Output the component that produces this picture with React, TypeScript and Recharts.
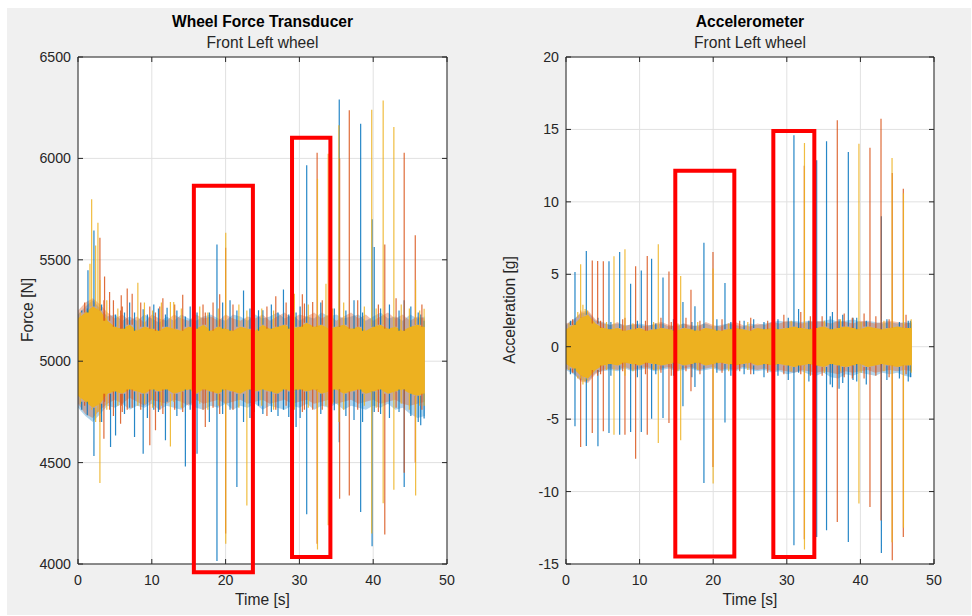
import React from 'react';
import {
  ComposedChart,
  Area,
  Line,
  XAxis,
  YAxis,
  CartesianGrid,
  ReferenceArea,
} from 'recharts';

const FONT = '"Liberation Sans", Arial, Helvetica, sans-serif';
const INK = '#262626';
const BLUE = '#0072BD';
const ORANGE = '#D95319';
const YELLOW = '#EDB120';
const RED = '#ff0000';

// shared time axis
const timeTicks = [0, 10, 20, 30, 40, 50];
const binTimes = [
  0, 1, 2, 3, 4, 5, 6, 7, 8, 9, 10, 11, 12, 13, 14, 15, 16, 17, 18, 19, 20, 21, 22, 23,
  24, 25, 26, 27, 28, 29, 30, 31, 32, 33, 34, 35, 36, 37, 38, 39, 40, 41, 42, 43, 44, 45, 46, 47,
];

// ---- wheel force transducer [N] ----
const forceTicks = [4000, 4500, 5000, 5500, 6000, 6500];

// noise envelope per 1 s bin
const forceYellowHi = [5210, 5240, 5270, 5250, 5200, 5170, 5160, 5180, 5150, 5170, 5160, 5150, 5170, 5160, 5150, 5170, 5160, 5180, 5150, 5170, 5160, 5150, 5170, 5160, 5150, 5180, 5160, 5170, 5180, 5160, 5170, 5190, 5170, 5180, 5160, 5170, 5180, 5160, 5170, 5150, 5170, 5180, 5160, 5170, 5150, 5170, 5180, 5170];
const forceYellowLo = [4830, 4800, 4770, 4790, 4840, 4850, 4840, 4860, 4850, 4840, 4860, 4850, 4860, 4840, 4850, 4860, 4840, 4860, 4850, 4840, 4860, 4850, 4840, 4860, 4850, 4860, 4850, 4840, 4860, 4850, 4860, 4850, 4860, 4840, 4850, 4860, 4840, 4850, 4860, 4840, 4850, 4860, 4840, 4850, 4860, 4840, 4830, 4840];
const forceOrangeHi = [5250, 5290, 5310, 5280, 5240, 5210, 5230, 5200, 5220, 5190, 5230, 5210, 5200, 5230, 5210, 5200, 5230, 5210, 5220, 5200, 5230, 5210, 5200, 5220, 5210, 5230, 5200, 5220, 5240, 5210, 5230, 5220, 5240, 5210, 5230, 5200, 5220, 5240, 5210, 5230, 5200, 5220, 5240, 5210, 5230, 5200, 5220, 5210];
const forceOrangeLo = [4790, 4740, 4720, 4760, 4790, 4810, 4790, 4820, 4800, 4780, 4810, 4800, 4790, 4810, 4800, 4780, 4810, 4790, 4800, 4810, 4790, 4800, 4810, 4790, 4800, 4810, 4790, 4800, 4810, 4790, 4800, 4810, 4790, 4800, 4810, 4790, 4800, 4810, 4790, 4800, 4810, 4790, 4800, 4810, 4790, 4780, 4790, 4800];
const forceBlueHi = [5230, 5270, 5300, 5260, 5220, 5230, 5200, 5220, 5200, 5230, 5210, 5190, 5220, 5200, 5230, 5210, 5200, 5220, 5230, 5210, 5200, 5230, 5220, 5200, 5230, 5210, 5220, 5240, 5210, 5230, 5200, 5220, 5210, 5240, 5220, 5230, 5210, 5220, 5230, 5200, 5220, 5240, 5210, 5220, 5200, 5230, 5210, 5220];
const forceBlueLo = [4770, 4730, 4700, 4740, 4780, 4770, 4790, 4760, 4780, 4770, 4790, 4760, 4780, 4770, 4760, 4790, 4770, 4760, 4780, 4770, 4790, 4760, 4780, 4770, 4790, 4760, 4780, 4770, 4760, 4780, 4770, 4790, 4760, 4780, 4770, 4790, 4760, 4780, 4770, 4760, 4780, 4770, 4790, 4760, 4770, 4740, 4720, 4730];

// peaks: [time, max, min]
const forceBlueSpikes: [number, number, number][] = [
  [0.5, 5250, 4760], [1.26, 5260, 4733], [1.35, 5448, 4850], [2.16, 5645, 4532],
  [3.2, 5280, 4700], [4.41, 5200, 4577], [5.09, 5230, 4634], [6.3, 5240, 4740],
  [7.0, 5290, 4770], [7.66, 5240, 4626], [8.83, 5256, 4544], [9.4, 5230, 4720],
  [10.27, 5280, 4760], [10.9, 5260, 4750], [11.85, 5230, 4610], [12.07, 5264, 4800],
  [13.4, 5250, 4730], [14.55, 5220, 4481], [15.2, 5270, 4760], [16.13, 5240, 4544],
  [17.8, 5240, 4700], [18.83, 5575, 4015], [19.6, 5290, 4740], [20.6, 5300, 4760],
  [21.53, 5250, 4380], [22.43, 5349, 4700], [23.3, 5260, 4720], [24.46, 5251, 4780],
  [25.05, 5251, 4740], [26.2, 5280, 4750], [27.1, 5240, 4730], [27.84, 5354, 4760],
  [28.56, 5230, 4725], [29.55, 5240, 4675], [30.1, 5270, 4720], [30.99, 5966, 4245],
  [32.9, 5290, 4740], [34.73, 5260, 4758], [35.4, 6291, 4600], [36.3, 5250, 4730],
  [37.4, 5300, 4710], [38.3, 6171, 4256], [38.56, 5240, 4700], [39.85, 5700, 4087],
  [40.14, 5563, 4750], [41.0, 5260, 4740], [42.2, 5280, 4720], [43.5, 5250, 4750],
  [44.2, 5300, 4380], [45.1, 5270, 4730], [46.1, 5240, 4700], [46.44, 5230, 4684],
  [46.9, 5200, 4717],
];
const forceOrangeSpikes: [number, number, number][] = [
  [0.9, 5290, 4780], [2.97, 5609, 4700], [3.51, 5300, 4618], [3.6, 5418, 4800],
  [4.28, 5341, 4760], [4.8, 5300, 4730], [5.77, 5250, 4692], [5.86, 5325, 4780],
  [6.0, 5270, 4750], [6.67, 5358, 4760], [7.34, 5333, 4770], [8.5, 5290, 4760],
  [9.73, 5270, 4585], [10.5, 5240, 4659], [11.08, 5270, 4760], [11.5, 5310, 4740],
  [13.1, 5280, 4760], [14.19, 5328, 4750], [15.6, 5300, 4730], [16.94, 5280, 4760],
  [17.25, 5240, 4675], [18.3, 5290, 4770], [19.2, 5330, 4740], [20.0, 5560, 4150],
  [21.0, 5280, 4760], [23.9, 5300, 4750], [25.6, 5270, 4730], [26.8, 5320, 4760],
  [28.2, 5290, 4780], [30.4, 5330, 4750], [30.68, 5284, 4760], [31.8, 5292, 4760],
  [32.4, 6028, 4100], [33.1, 5300, 4760], [34.3, 5270, 4740], [35.45, 6000, 4322],
  [36.76, 6237, 4338], [37.9, 5300, 4760], [40.7, 5280, 4750], [41.57, 5575, 4146],
  [43.1, 5310, 4770], [44.2, 6028, 4450], [45.7, 5621, 4500], [46.6, 5280, 4760],
];
const forceYellowSpikes: [number, number, number][] = [
  [0.3, 5240, 4790], [1.62, 5481, 4780], [1.85, 5798, 4760], [2.39, 5571, 4700],
  [2.7, 5683, 4750], [2.97, 5400, 4399], [3.9, 5300, 4760], [5.4, 5260, 4780],
  [8.11, 5387, 4780], [9.0, 5290, 4790], [10.1, 5250, 4770], [11.3, 5290, 4780],
  [12.52, 5292, 4580], [12.97, 5292, 4800], [14.0, 5260, 4770], [16.5, 5270, 4790],
  [17.6, 5240, 4760], [19.0, 5260, 4780], [20.02, 5634, 4100], [21.8, 5280, 4770],
  [22.88, 5250, 4289], [24.9, 5260, 4780], [26.5, 5250, 4760], [28.9, 5290, 4780],
  [29.32, 5333, 4760], [31.2, 5280, 4770], [32.45, 5900, 4071], [33.6, 5382, 4780],
  [33.9, 6023, 4191], [34.5, 5260, 4790], [35.35, 6163, 4700], [36.0, 5290, 4760],
  [38.8, 5270, 4780], [39.8, 6240, 4150], [40.4, 5260, 4770], [41.35, 6286, 4300],
  [42.8, 6155, 4366], [43.8, 5280, 4790], [44.9, 5260, 4760], [45.75, 5400, 4338],
  [46.3, 5250, 4780], [46.9, 5259, 4780],
];
const forceBoxes = [
  { x1: 15.7, x2: 23.7, y1: 3959, y2: 5865 },
  { x1: 29.0, x2: 34.2, y1: 4034, y2: 6102 },
];

// ---- accelerometer [g] ----
const accelTicks = [-15, -10, -5, 0, 5, 10, 15, 20];

const accelYellowHi = [1.2, 1.5, 2.0, 2.2, 1.6, 1.3, 1.2, 1.3, 1.1, 1.2, 1.3, 1.1, 1.2, 1.3, 1.2, 1.1, 1.3, 1.2, 1.1, 1.3, 1.2, 1.1, 1.2, 1.3, 1.2, 1.1, 1.3, 1.2, 1.3, 1.2, 1.3, 1.4, 1.3, 1.2, 1.3, 1.4, 1.2, 1.3, 1.4, 1.3, 1.2, 1.4, 1.3, 1.2, 1.3, 1.4, 1.3, 1.3];
const accelYellowLo = [-1.2, -1.5, -2.0, -2.2, -1.6, -1.3, -1.2, -1.3, -1.1, -1.2, -1.3, -1.1, -1.2, -1.3, -1.2, -1.1, -1.3, -1.2, -1.1, -1.3, -1.2, -1.1, -1.2, -1.3, -1.2, -1.1, -1.3, -1.2, -1.3, -1.2, -1.3, -1.4, -1.3, -1.2, -1.3, -1.4, -1.2, -1.3, -1.4, -1.3, -1.2, -1.4, -1.3, -1.2, -1.3, -1.4, -1.3, -1.3];
const accelOrangeHi = [1.6, 1.8, 2.4, 2.5, 1.9, 1.6, 1.5, 1.7, 1.4, 1.6, 1.5, 1.4, 1.6, 1.7, 1.5, 1.4, 1.6, 1.5, 1.4, 1.7, 1.5, 1.4, 1.6, 1.7, 1.5, 1.4, 1.6, 1.5, 1.7, 1.6, 1.8, 1.7, 1.6, 1.7, 1.8, 1.7, 1.6, 1.8, 1.7, 1.6, 1.8, 1.7, 1.6, 1.7, 1.8, 1.7, 1.6, 1.7];
const accelOrangeLo = [-1.5, -1.8, -2.4, -2.5, -1.9, -1.6, -1.5, -1.6, -1.4, -1.6, -1.5, -1.4, -1.6, -1.5, -1.4, -1.6, -1.5, -1.4, -1.6, -1.5, -1.4, -1.6, -1.5, -1.6, -1.4, -1.5, -1.6, -1.5, -1.7, -1.6, -1.7, -1.8, -1.6, -1.7, -1.8, -1.7, -1.8, -1.9, -1.7, -1.8, -1.7, -1.6, -1.8, -1.7, -1.6, -1.7, -1.6, -1.7];
const accelBlueHi = [1.5, 1.9, 2.3, 2.4, 1.8, 1.7, 1.5, 1.6, 1.5, 1.5, 1.6, 1.5, 1.5, 1.6, 1.4, 1.5, 1.6, 1.4, 1.5, 1.6, 1.4, 1.5, 1.6, 1.5, 1.4, 1.6, 1.5, 1.6, 1.7, 1.8, 1.7, 1.8, 1.7, 1.8, 1.7, 1.8, 1.9, 1.7, 1.8, 1.9, 1.7, 1.8, 1.7, 1.6, 1.7, 1.6, 1.7, 1.6];
const accelBlueLo = [-1.6, -1.9, -2.3, -2.4, -1.8, -1.7, -1.6, -1.7, -1.5, -1.7, -1.6, -1.5, -1.7, -1.6, -1.5, -1.7, -1.6, -1.5, -1.7, -1.6, -1.5, -1.7, -1.6, -1.7, -1.5, -1.6, -1.7, -1.6, -1.8, -1.7, -1.9, -1.8, -1.7, -1.9, -2.0, -1.8, -2.1, -2.2, -1.9, -2.0, -1.8, -1.9, -2.0, -1.8, -1.9, -1.8, -2.0, -2.1];

const accelBlueSpikes: [number, number, number][] = [
  [0.6, 1.8, -1.9], [1.22, 5.16, -5.49], [2.76, 6.61, -6.85], [3.1, 2.0, -2.2],
  [4.34, 2.0, -6.87], [5.84, 5.9, -5.95], [6.1, 1.7, -2.0], [7.29, 6.54, -6.07],
  [8.78, 4.35, -5.89], [9.7, 1.8, -2.1], [10.23, 5.27, -5.89], [11.63, 6.08, -4.97],
  [12.2, 1.6, -1.9], [13.18, 4.77, -4.92], [14.6, 1.9, -2.0], [15.89, 3.09, -4.11],
  [17.1, 1.7, -2.1], [17.52, 2.79, -2.78], [18.74, 7.18, -9.41], [20.5, 1.9, -1.8],
  [21.6, 4.4, -5.24], [22.4, 1.7, -2.0], [24.2, 1.8, -1.9], [25.5, 1.9, -1.9],
  [26.9, 1.7, -2.1], [28.8, 1.9, -2.0], [30.2, 2.0, -2.3], [30.97, 14.59, -13.71],
  [31.6, 2.6, -1.8], [33.0, 1.8, -2.4], [34.06, 12.87, -13.13], [35.4, 14.18, -12.67],
  [35.9, 2.1, -2.6], [36.2, 2.4, -2.8], [37.1, 1.9, -2.9], [37.6, 2.2, -2.5],
  [38.36, 13.44, -13.48], [39.0, 2.0, -2.3], [39.5, 2.0, -2.4], [40.8, 1.8, -2.6],
  [42.85, 9.0, -14.24], [43.6, 1.9, -2.3], [45.3, 1.7, -2.2], [46.5, 1.8, -2.4],
  [46.8, 1.8, -2.1],
];
const accelOrangeSpikes: [number, number, number][] = [
  [0.9, 1.9, -1.8], [1.99, 2.5, -6.92], [3.57, 5.96, -5.95], [4.3, 5.92, -2.0],
  [4.7, 1.8, -1.9], [5.07, 5.9, -5.84], [7.7, 1.9, -1.7], [8.01, 2.0, -6.07],
  [9.46, 5.55, -7.73], [10.8, 1.8, -1.9], [11.04, 6.26, -6.07], [12.9, 2.0, -1.8],
  [13.99, 5.2, -5.26], [14.3, 1.7, -2.0], [16.3, 2.0, -1.7], [16.98, 3.94, -3.08],
  [18.2, 1.8, -1.9], [19.97, 6.54, -8.3], [21.2, 1.9, -1.8], [23.6, 1.8, -1.7],
  [25.1, 2.0, -1.9], [27.4, 1.8, -1.8], [29.6, 2.2, -1.9], [31.9, 2.4, -1.9],
  [32.38, 12.5, -13.3], [33.2, 2.1, -2.0], [34.8, 2.1, -2.0], [36.86, 15.63, -12.1],
  [37.8, 2.3, -2.1], [38.9, 2.0, -2.2], [40.5, 2.3, -2.2], [41.3, 13.74, -11.06],
  [42.1, 2.1, -2.0], [42.8, 15.74, -12.0], [43.9, 1.9, -2.1], [44.33, 12.0, -14.74],
  [45.83, 10.91, -13.13], [46.2, 2.2, -1.9],
];
const accelYellowSpikes: [number, number, number][] = [
  [0.4, 1.6, -1.6], [1.6, 2.4, -2.2], [1.99, 5.69, -2.2], [2.3, 2.9, -2.6],
  [2.6, 2.6, -2.4], [2.9, 2.5, -2.3], [5.5, 1.7, -1.6], [6.52, 6.24, -6.07],
  [8.01, 6.72, -2.0], [9.1, 1.6, -1.7], [11.9, 1.7, -1.6], [12.54, 7.07, -6.65],
  [15.2, 1.6, -1.7], [15.58, 4.88, -6.46], [17.9, 1.7, -1.6], [19.99, 5.4, -9.45],
  [22.1, 1.6, -1.7], [24.7, 1.7, -1.6], [27.9, 1.6, -1.7], [30.6, 1.8, -1.7],
  [32.4, 14.06, -14.0], [35.1, 1.8, -1.8], [37.3, 1.9, -1.7], [39.8, 14.02, -10.83],
  [40.1, 1.7, -1.8], [43.2, 1.8, -1.7], [44.3, 13.03, -13.5], [45.85, 10.6, -12.5],
  [46.9, 1.9, -1.8],
];
const accelBoxes = [
  { x1: 14.85, x2: 22.87, y1: -14.49, y2: 12.15 },
  { x1: 28.17, x2: 33.74, y1: -14.52, y2: 14.89 },
];

type Band = { hi: number[]; lo: number[] };

function bandRows(blue: Band, orange: Band, yellow: Band) {
  return binTimes.map((t, i) => ({
    t,
    blue: [blue.lo[i], blue.hi[i]],
    orange: [orange.lo[i], orange.hi[i]],
    yellow: [yellow.lo[i], yellow.hi[i]],
  }));
}

// vertical strokes from the top/bottom of the yellow band out to each peak
function spikeRows(spikes: [number, number, number][], core: Band) {
  const rows: { t: number; v: number | null }[] = [];
  spikes.forEach(([t, hi, lo]) => {
    const i = Math.min(core.hi.length - 1, Math.round(t));
    if (hi > core.hi[i]) rows.push({ t, v: core.hi[i] }, { t, v: hi }, { t, v: null });
    if (lo < core.lo[i]) rows.push({ t, v: core.lo[i] }, { t, v: lo }, { t, v: null });
  });
  return rows;
}

type PanelProps = {
  left: number;
  plotLeft: number;
  plotRight: number;
  yDomain: [number, number];
  yTicks: number[];
  rows: ReturnType<typeof bandRows>;
  spikes: { color: string; rows: { t: number; v: number | null }[] }[];
  boxes: { x1: number; x2: number; y1: number; y2: number }[];
};

const W = 486;
const H = 616;
const PLOT_TOP = 57;
const PLOT_BOTTOM = 564;
const TICK_FONT = 14.2;
const LABEL_FONT = 15.6;

function Panel({ left, plotLeft, plotRight, yDomain, yTicks, rows, spikes, boxes }: PanelProps) {
  const xTick = (p: any) => (
    <g>
      <line x1={p.x} x2={p.x} y1={PLOT_BOTTOM} y2={PLOT_BOTTOM - 5} stroke={INK} />
      <line x1={p.x} x2={p.x} y1={PLOT_TOP} y2={PLOT_TOP + 5} stroke={INK} />
      <text x={p.x} y={585} textAnchor="middle" fontSize={TICK_FONT} fontFamily={FONT} fill={INK}>
        {p.payload.value}
      </text>
    </g>
  );
  const yTick = (p: any) => (
    <g>
      <line x1={plotLeft} x2={plotLeft + 5} y1={p.y} y2={p.y} stroke={INK} />
      <line x1={plotRight} x2={plotRight - 5} y1={p.y} y2={p.y} stroke={INK} />
      <text x={plotLeft - 7} y={p.y + 5} textAnchor="end" fontSize={TICK_FONT} fontFamily={FONT} fill={INK}>
        {p.payload.value}
      </text>
    </g>
  );

  return (
    <div style={{ position: 'absolute', left, top: 0 }}>
      <ComposedChart
        width={W}
        height={H}
        data={rows}
        margin={{ top: PLOT_TOP, right: W - plotRight, bottom: H - PLOT_BOTTOM - 30, left: plotLeft - 60 }}
      >
        <CartesianGrid stroke="#e1e1e1" fill="#ffffff" />
        <XAxis
          dataKey="t"
          type="number"
          domain={[0, 50]}
          ticks={timeTicks}
          interval={0}
          height={30}
          axisLine={false}
          tickLine={false}
          tick={xTick}
          allowDataOverflow
        />
        <YAxis
          type="number"
          domain={yDomain}
          ticks={yTicks}
          interval={0}
          width={60}
          axisLine={false}
          tickLine={false}
          tick={yTick}
          allowDataOverflow
        />
        <Area dataKey="blue" type="linear" stroke="none" fill={BLUE} fillOpacity={0.3} isAnimationActive={false} activeDot={false} />
        <Area dataKey="orange" type="linear" stroke="none" fill={ORANGE} fillOpacity={0.35} isAnimationActive={false} activeDot={false} />
        <Area dataKey="yellow" type="linear" stroke="none" fill={YELLOW} fillOpacity={1} isAnimationActive={false} activeDot={false} />
        {spikes.map((s, k) => (
          <Line
            key={k}
            data={s.rows}
            dataKey="v"
            type="linear"
            stroke={s.color}
            strokeWidth={1.2}
            strokeOpacity={0.85}
            dot={false}
            activeDot={false}
            connectNulls={false}
            isAnimationActive={false}
          />
        ))}
        <ReferenceArea
          x1={0}
          x2={50}
          y1={yDomain[0]}
          y2={yDomain[1]}
          fill="none"
          stroke={INK}
          strokeWidth={1}
          ifOverflow="visible"
        />
        {boxes.map((b, k) => (
          <ReferenceArea
            key={k}
            x1={b.x1}
            x2={b.x2}
            y1={b.y1}
            y2={b.y2}
            fill="none"
            stroke={RED}
            strokeWidth={4}
            ifOverflow="visible"
            zIndex={1500}
          />
        ))}
      </ComposedChart>
    </div>
  );
}

export default function App() {
  const forceYellow = { hi: forceYellowHi, lo: forceYellowLo };
  const accelYellow = { hi: accelYellowHi, lo: accelYellowLo };
  const forceRows = bandRows(
    { hi: forceBlueHi, lo: forceBlueLo },
    { hi: forceOrangeHi, lo: forceOrangeLo },
    forceYellow,
  );
  const accelRows = bandRows(
    { hi: accelBlueHi, lo: accelBlueLo },
    { hi: accelOrangeHi, lo: accelOrangeLo },
    accelYellow,
  );

  const textStyle = { fontFamily: FONT, fill: INK, fontSize: LABEL_FONT };

  return (
    <div style={{ position: 'absolute', left: 0, top: 0, width: 972, height: 616, background: '#ffffff', overflow: 'hidden' }}>
      <div style={{ position: 'absolute', left: 7, top: 8, width: 964, height: 607, background: '#f0f0f0' }} />
      <svg width={972} height={616} style={{ position: 'absolute', left: 0, top: 0 }}>
        <text x={262.5} y={27} textAnchor="middle" fontWeight="bold" style={{ ...textStyle, fill: '#000' }}>
          Wheel Force Transducer
        </text>
        <text x={262.5} y={48} textAnchor="middle" style={textStyle}>Front Left wheel</text>
        <text x={262.5} y={605} textAnchor="middle" style={textStyle}>Time [s]</text>
        <text x={33} y={310} textAnchor="middle" transform="rotate(-90 33 310)" style={textStyle}>
          Force [N]
        </text>

        <text x={750} y={27} textAnchor="middle" fontWeight="bold" style={{ ...textStyle, fill: '#000' }}>
          Accelerometer
        </text>
        <text x={750} y={48} textAnchor="middle" style={textStyle}>Front Left wheel</text>
        <text x={750} y={605} textAnchor="middle" style={textStyle}>Time [s]</text>
        <text x={515} y={310} textAnchor="middle" transform="rotate(-90 515 310)" style={textStyle}>
          Acceleration [g]
        </text>
      </svg>

      <Panel
        left={0}
        plotLeft={78}
        plotRight={447}
        yDomain={[4000, 6500]}
        yTicks={forceTicks}
        rows={forceRows}
        spikes={[
          { color: BLUE, rows: spikeRows(forceBlueSpikes, forceYellow) },
          { color: ORANGE, rows: spikeRows(forceOrangeSpikes, forceYellow) },
          { color: YELLOW, rows: spikeRows(forceYellowSpikes, forceYellow) },
        ]}
        boxes={forceBoxes}
      />
      <Panel
        left={486}
        plotLeft={80}
        plotRight={448}
        yDomain={[-15, 20]}
        yTicks={accelTicks}
        rows={accelRows}
        spikes={[
          { color: BLUE, rows: spikeRows(accelBlueSpikes, accelYellow) },
          { color: ORANGE, rows: spikeRows(accelOrangeSpikes, accelYellow) },
          { color: YELLOW, rows: spikeRows(accelYellowSpikes, accelYellow) },
        ]}
        boxes={accelBoxes}
      />
    </div>
  );
}
